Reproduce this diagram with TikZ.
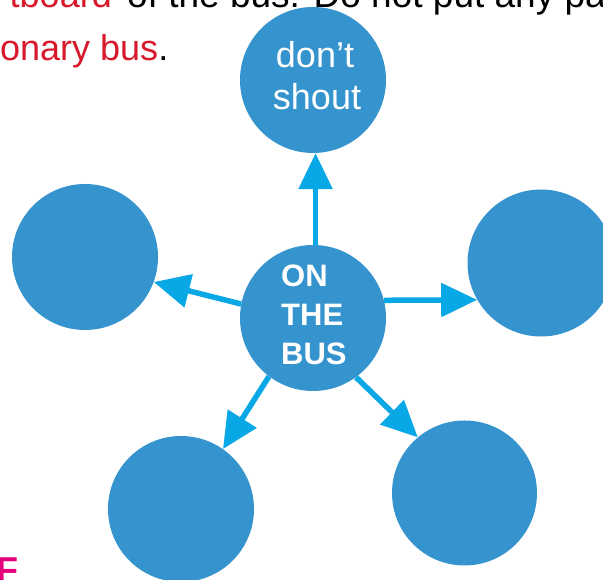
\documentclass[tikz,border=0pt]{standalone}
\usepackage{fontspec}
\setmainfont{Liberation Sans}
\usetikzlibrary{arrows.meta}
\definecolor{cfill}{HTML}{3594CE}
\definecolor{carrow}{HTML}{08A7E6}
\definecolor{cred}{HTML}{D8192C}
\definecolor{cmag}{HTML}{E6007E}
\tikzset{
  bub/.style={circle, fill=cfill, draw=none, minimum size=146pt, inner sep=0pt},
  arr/.style={draw=carrow, line width=5.5pt, -{Triangle[length=36pt,width=33pt]}},
  body/.style={inner sep=0pt, font=\fontsize{36}{42}\selectfont},
  wt/.style={inner sep=0pt, text=white, font=\fontsize{36}{42}\selectfont},
  wb/.style={inner sep=0pt, text=white, font=\fontsize{31}{36}\selectfont\bfseries},
}
\begin{document}
\begin{tikzpicture}[x=1pt,y=1pt]
\useasboundingbox (0,0) rectangle (603,580);
\clip (0,0) rectangle (603,580);
\fill[white] (0,0) rectangle (603,580);
% text lines
\node[body, text=cred, anchor=base east] (l1a) at (112,572) {tboard};
\node[body, anchor=base west, font=\fontsize{37}{42}\selectfont] (l1b) at (127,572) {of the bus. Do not put any pa};
\node[body, anchor=base west] (l2) at (0,519) {\textcolor{cred}{onary bus}.};
\node[inner sep=0pt, text=cmag, anchor=base west, font=\fontsize{36}{42}\selectfont\bfseries] (ff) at (-4,-3) {F};
% bubbles
\node[bub] (C) at (313,262) {};
\node[bub] (T) at (313,500) {};
\node[bub] (L) at (85,323) {};
\node[bub, minimum size=147pt] (R) at (541,317) {};
\node[bub] (BL) at (181,71) {};
\node[bub, minimum size=145pt] (BR) at (464.5,87) {};
% arrows
\draw[arr] (C.88) -- (T.272);
\draw[arr] (C.14) -- (R.210);
\draw[arr] (C.169) -- (L.340);
\draw[arr] (C.233) -- (BL.55);
\draw[arr] (C.306) -- (BR.130);
% bubble texts
\node[wt, anchor=base] (t1) at (315,512) {don’t};
\node[wt, anchor=base] (t2) at (317,470) {shout};
\node[wb, anchor=base west] (c1) at (281,293) {ON};
\node[wb, anchor=base west] (c2) at (281,254) {THE};
\node[wb, anchor=base west] (c3) at (281,215) {BUS};
\end{tikzpicture}
\end{document}
